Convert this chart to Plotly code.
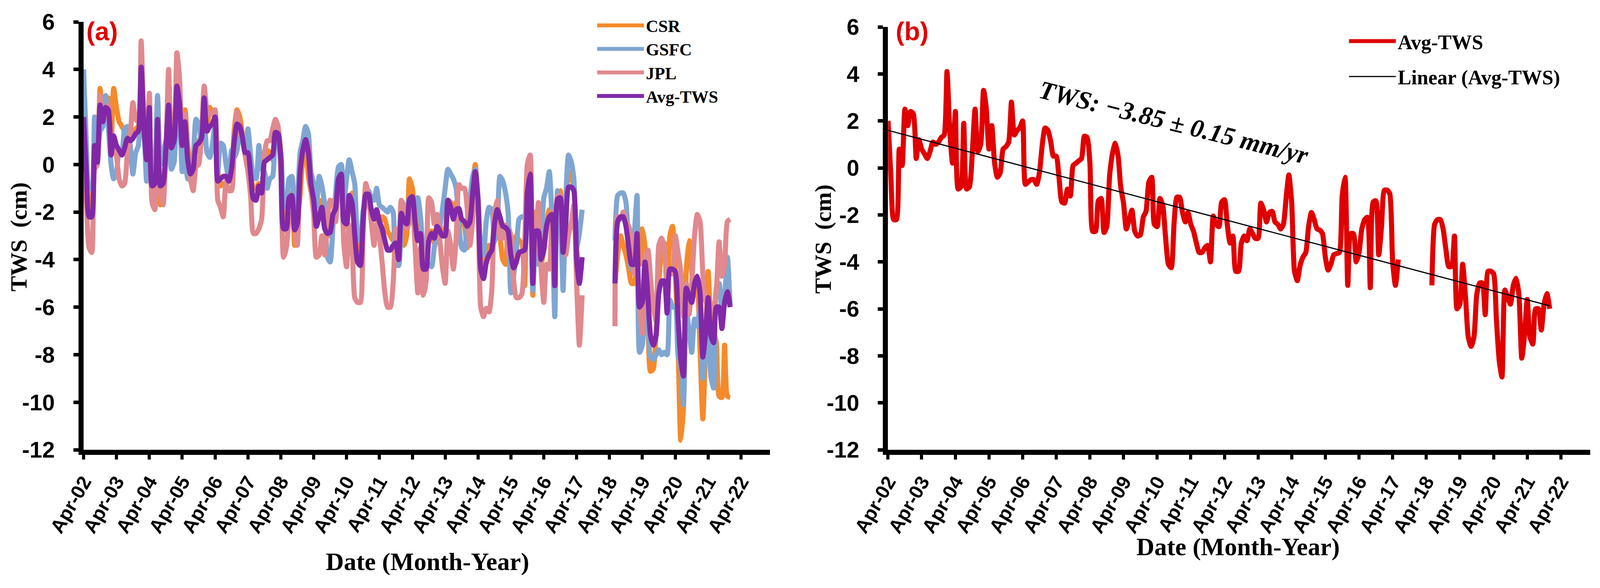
import numpy as np
import pandas as pd
import plotly.graph_objects as go

W, H = 4288, 1506

# ---------------- data (monthly, cm) ----------------
first_month = "2002-04-01"
gap_months = 11  # Jul-2017 .. May-2018 (no data between GRACE and GRACE-FO)

# GRACE period: Apr-2002 .. Jun-2017 (183 months)
avg_grace = [2.0, -0.3, -2.2, -2.2, 0.8, 0.1, 2.5, 1.8, 2.4, 2.3,
             0.4, 1.2, 0.8, 0.6, 0.4, 0.7, 1.1, 1.0, 1.1, 1.3,
             1.4, 4.1, 1.5, 0.2, 2.4, -0.9, -0.8, 1.9, -0.9, -0.8,
             0.6, 2.5, 0.7, 1.0, 3.3, 2.6, 0.8, 1.8, 0.2, -0.4,
             -0.2, 0.8, 0.9, 1.1, 2.8, 1.4, 1.6, 1.7, 2.0, -0.7,
             -0.6, -0.5, -0.5, -0.7, -0.2, 1.0, 1.7, 1.6, 1.1, 0.5,
             0.5, -0.4, -1.45, -1.5, -0.9, -1.2, 0.1, 0.2, 0.3, 0.4,
             1.35, 1.3, 0.2, -2.7, -2.7, -1.4, -1.3, -2.75, -2.5, -0.3,
             0.6, 1.05, 0.5, -0.8, -1.5, -2.6, -2.2, -1.8, -2.7, -2.9,
             -2.85, -2.1, -1.85, -0.6, -0.4, -2.4, -2.5, -1.3, -1.6, -2.95,
             -4.1, -4.25, -2.4, -1.25, -1.25, -1.9, -2.3, -1.9, -2.4, -2.7,
             -3.2, -3.6, -3.6, -3.4, -3.3, -4.0, -2.05, -2.4, -2.5, -1.46,
             -1.35, -2.4, -3.2, -2.9, -4.4, -4.4, -3.2, -2.9, -3.1, -2.6,
             -2.8, -3.0, -3.0, -1.5, -1.8, -2.3, -1.9, -1.85, -2.3, -2.4,
             -2.6, -2.4, -1.2, -0.3, -1.5, -4.4, -4.8, -4.15, -3.8, -3.6,
             -2.5, -1.9, -2.2, -2.6, -2.65, -2.8, -3.8, -4.35, -4.1, -3.7,
             -3.65, -3.6, -1.2, -0.4, -5.0, -2.8, -2.8, -4.0, -3.6, -2.6,
             -2.2, -2.1, -5.1, -1.45, -1.4, -3.7, -2.5, -0.95, -0.95, -1.1,
             -4.0, -5.0, -3.9]

csr_grace = [2.0, -0.2, -2.1, -1.8, 0.6, 0.2, 3.2, 1.9, 2.2, 2.8,
             0.8, 3.2, 2.4, 1.8, 1.6, 1.4, 1.2, 1.0, 1.1, 1.5,
             1.6, 4.2, 1.2, 0.6, 2.4, -0.6, -0.5, 1.4, -1.7, -1.2,
             0.3, 2.3, 0.9, 1.3, 3.2, 2.3, 1.9, 2.3, 0.8, 0.0,
             0.3, 0.6, 1.0, 1.2, 2.6, 1.4, 2.4, 2.2, 2.0, -0.2,
             -0.9, -0.8, -0.8, -0.4, -0.1, 1.5, 2.3, 2.0, 1.2, 0.6,
             0.3, -0.3, -1.0, -1.0, -0.8, -1.1, 0.2, 0.6, 0.5, 0.2,
             1.1, 1.5, 0.5, -2.6, -2.8, -1.2, -1.3, -3.4, -2.5, -1.3,
             0.2, 0.6, -0.5, -1.1, -1.6, -2.1, -2.3, -1.5, -2.6, -2.4,
             -3.0, -2.1, -2.0, -0.7, -0.5, -2.2, -2.6, -1.6, -1.2, -2.4,
             -3.5, -3.8, -2.2, -1.6, -1.3, -1.9, -2.0, -2.2, -2.5, -2.2,
             -2.3, -2.8, -3.0, -3.2, -3.0, -4.0, -2.3, -3.4, -2.9, -0.6,
             -1.0, -2.0, -2.8, -3.0, -4.0, -4.1, -3.1, -2.8, -3.3, -2.7,
             -2.6, -2.8, -3.0, -1.5, -1.6, -1.9, -1.6, -2.2, -2.4, -2.6,
             -3.5, -2.3, -0.8, 0.0, -1.4, -3.8, -4.2, -4.0, -3.4, -3.6,
             -2.1, -1.6, -3.0, -4.0, -4.2, -2.6, -3.0, -3.5, -3.0, -3.2,
             -3.3, -5.1, -1.2, -0.6, -5.5, -2.0, -2.6, -4.2, -3.6, -2.6,
             -1.9, -2.0, -4.5, -1.9, -1.1, -3.3, -2.2, -0.3, -0.5, -1.0,
             -3.5, -4.5, -4.3]

gsfc_grace = [4.0, 0.9, -1.0, -1.0, 2.0, 0.1, 1.4, 1.6, 2.9, 1.6,
              0.0, -0.6, -0.4, 0.6, 0.5, 1.5, 1.6, 0.8, -0.4, 0.5,
              0.8, 2.9, 1.6, -0.7, 1.8, -0.5, 0.0, 2.9, 0.0, 0.5,
              1.0, 1.2, -0.2, 0.1, 2.0, 1.8, -0.3, 1.0, -0.6, -0.6,
              0.2, 1.9, 1.7, 0.9, 2.0, 0.5, 0.3, 0.8, 1.7, -0.4,
              0.9, 0.8, 0.0, -0.6, 0.6, 0.3, 0.6, 1.5, 1.0, 0.5,
              1.5, 0.4, -0.5, -0.6, 0.8, -0.2, -0.3, -1.0, -0.6, -0.5,
              1.0, 0.8, 0.5, -1.6, -1.8, -0.6, -0.5, -2.2, -1.6, 0.5,
              1.0, 1.6, 1.3, -0.3, -0.8, -1.8, -0.5, -0.9, -1.7, -3.9,
              -4.1, -2.6, -1.2, -0.1, 0.0, -1.7, -0.6, 0.2, -0.3, -0.8,
              -3.0, -3.2, -2.0, -1.4, -1.1, -1.4, -1.5, -1.0, -1.7, -1.8,
              -1.9, -2.0, -1.8, -2.0, -4.2, -4.25, -2.4, -2.0, -1.9, -1.4,
              -1.4, -1.8, -1.4, -2.2, -3.7, -4.2, -4.2, -4.3, -3.5, -3.0,
              -2.6, -1.9, -1.0, -0.2, -0.4, -0.6, -1.0, -2.5, -3.5, -3.6,
              -2.5, -1.5, -0.5, -0.2, -1.4, -3.4, -3.8, -2.4, -1.8, -1.9,
              -3.3, -2.6, -0.5, -0.7, -1.2, -2.0, -5.4, -4.7, -3.7, -2.3,
              -2.2, -2.2, -2.4, -1.0, -5.3, -3.2, -4.2, -3.5, -1.4, -1.0,
              -0.3, -2.3, -6.4, -1.1, -1.8, -5.3, -1.5, 0.4, 0.1, -0.6,
              -3.5, -2.9, -1.9]

jpl_grace = [0.0, -1.6, -3.5, -3.7, -0.2, 0.0, 2.9, 1.9, 2.1, 2.5,
             0.4, 1.0, 0.4, -0.6, -0.9, -0.8, 0.5, 1.2, 2.6, 1.9,
             1.8, 5.2, 1.7, 0.7, 3.0, -1.6, -1.9, 1.4, -1.0, -1.7,
             0.5, 4.0, 1.4, 1.6, 4.7, 3.7, 0.8, 2.1, 0.4, -0.6,
             -1.1, -0.1, 0.0, 1.2, 3.3, 2.3, 2.1, 2.1, 2.3, -1.5,
             -1.8, -2.2, -0.7, -1.1, -1.1, 1.2, 2.2, 1.3, 1.1, 0.4,
             -0.3, -1.3, -2.9, -2.9, -2.7, -2.3, 0.4, 1.0, 1.0, 1.5,
             1.9, 1.6, -0.4, -3.9, -3.5, -2.4, -2.1, -2.7, -3.4, -0.1,
             0.6, 1.0, 0.7, -1.0, -2.1, -3.9, -3.8, -3.0, -3.8, -2.4,
             -1.5, -1.6, -2.4, -1.0, -0.7, -3.3, -4.3, -2.5, -3.3, -5.6,
             -5.8, -5.8, -3.0, -0.8, -1.35, -2.4, -3.4, -2.5, -3.0, -4.1,
             -5.4, -6.0, -6.0, -5.0, -2.7, -3.8, -1.5, -1.8, -2.7, -2.4,
             -1.6, -3.4, -5.4, -3.5, -5.5, -4.9, -1.4, -1.6, -2.5, -2.1,
             -3.2, -4.3, -5.0, -2.8, -3.4, -4.4, -3.1, -0.85, -1.0, -1.0,
             -1.8, -3.4, -2.3, -0.7, -1.7, -6.0, -6.4, -6.05, -6.2, -5.3,
             -2.1, -1.5, -3.1, -3.1, -2.55, -3.8, -3.0, -4.85, -5.6, -5.6,
             -5.45, -3.5, 0.0, 0.4, -4.2, -3.2, -1.6, -4.3, -5.8, -4.2,
             -4.4, -2.0, -4.4, -1.35, -1.3, -2.5, -3.8, -2.95, -2.45, -1.7,
             -5.0, -7.6, -5.5]

# GRACE-FO period: Jun-2018 .. Dec-2021 (43 months)
avg_gfo = [-5.0, -2.4, -2.2, -2.2, -2.6, -3.5, -4.2, -4.2, -2.9, -6.0,
           -5.8, -4.1, -5.5, -7.2, -7.6, -7.2, -5.4, -4.9, -4.9, -6.25,
           -4.4, -4.4, -4.5, -6.4, -8.2, -8.9, -5.2, -5.5, -5.8, -5.0,
           -4.7, -5.4, -8.1, -7.2, -5.6, -7.2, -7.5, -6.0, -6.0, -6.9,
           -5.8, -5.35, -6.0]
csr_gfo = [-5.0, -3.8, -3.0, -3.4, -3.8, -4.4, -5.0, -5.0, -3.0, -4.2,
           -2.7, -3.5, -6.5, -8.7, -8.6, -7.0, -5.0, -3.6, -3.3, -5.8,
           -3.0, -2.6, -4.5, -7.5, -11.6, -10.2, -4.5, -3.2, -4.5, -5.5,
           -5.2, -7.8, -10.7, -8.0, -4.5, -6.5, -7.0, -7.5, -9.75, -9.8,
           -7.6, -9.75, -9.8]
gsfc_gfo = [-3.2, -1.3, -1.2, -1.2, -1.6, -3.5, -4.4, -3.0, -1.3, -7.9,
            -7.6, -5.0, -6.4, -8.1, -8.2, -8.0, -7.8, -8.0, -7.9, -8.0,
            -5.7, -6.0, -6.0, -8.0, -8.5, -10.1, -6.1, -7.0, -7.9, -6.5,
            -6.8, -6.0, -9.0, -7.9, -6.3, -8.9, -9.4, -5.2, -5.0, -6.2,
            -5.6, -3.9, -5.9]
jpl_gfo = [-6.8, -2.2, -2.3, -2.0, -2.4, -2.6, -3.2, -4.6, -4.4, -5.9,
           -7.1, -3.8, -3.6, -4.8, -6.0, -6.6, -3.4, -3.1, -3.5, -4.95,
           -4.5, -4.6, -3.0, -3.7, -4.5, -6.4, -5.0, -6.3, -5.0, -3.0,
           -2.1, -2.4, -4.6, -5.7, -6.0, -6.2, -6.1, -5.3, -3.25, -4.7,
           -4.2, -2.4, -2.3]

trend_label = "TWS: \u22123.85 \u00b1 0.15 mm/yr"

tick_dates = ["2002-04-01", "2003-04-01", "2004-04-01", "2005-04-01", "2006-04-01",
              "2007-04-01", "2008-04-01", "2009-04-01", "2010-04-01", "2011-04-01",
              "2012-04-01", "2013-04-01", "2014-04-01", "2015-04-01", "2016-04-01",
              "2017-04-01", "2018-04-01", "2019-04-01", "2020-04-01", "2021-04-01",
              "2022-04-01"]
tick_labels = ["Apr-02", "Apr-03", "Apr-04", "Apr-05", "Apr-06", "Apr-07", "Apr-08",
               "Apr-09", "Apr-10", "Apr-11", "Apr-12", "Apr-13", "Apr-14", "Apr-15",
               "Apr-16", "Apr-17", "Apr-18", "Apr-19", "Apr-20", "Apr-21", "Apr-22"]
y_tick_vals = [-12, -10, -8, -6, -4, -2, 0, 2, 4, 6]
y_tick_text = ["-12", "-10", "-8", "-6", "-4", "-2", "0", "2", "4", "6"]

# ---------------- assemble ----------------
def join(a, b):
    return list(a) + [None] * gap_months + list(b)

avg = join(avg_grace, avg_gfo)
csr = join(csr_grace, csr_gfo)
gsfc = join(gsfc_grace, gsfc_gfo)
jpl = join(jpl_grace, jpl_gfo)
dates = pd.date_range(first_month, periods=len(avg), freq="MS")

# linear trend of Avg-TWS (least squares on available months)
t = np.arange(len(avg), dtype=float)
ya = np.array([np.nan if v is None else v for v in avg])
ok = ~np.isnan(ya)
slope, icpt = np.polyfit(t[ok], ya[ok], 1)
trend_y = [icpt + slope * t[0], icpt + slope * t[-1]]
trend_x = [dates[0], dates[-1]]

SANS = "Liberation Sans"
SERIF = "Liberation Serif"

fig = go.Figure()
series_a = [("CSR", csr, "#F58A2C"), ("GSFC", gsfc, "#7FA6D2"),
            ("JPL", jpl, "#E0898E"), ("Avg-TWS", avg, "#8128A8")]
for name, vals, col in series_a:
    fig.add_trace(go.Scatter(x=dates, y=vals, mode="lines", name=name,
                             line=dict(color=col, width=13, shape="spline", smoothing=0.6),
                             connectgaps=False, xaxis="x", yaxis="y", legend="legend"))

fig.add_trace(go.Scatter(x=dates, y=avg, mode="lines", name="Avg-TWS",
                         line=dict(color="#E00000", width=13, shape="spline", smoothing=0.6),
                         connectgaps=False, xaxis="x2", yaxis="y2",
                         legend="legend2", legendgroup="g1"))
fig.add_trace(go.Scatter(x=trend_x, y=trend_y, mode="lines", name="Linear (Avg-TWS)",
                         line=dict(color="black", width=3),
                         xaxis="x2", yaxis="y2", legend="legend2", legendgroup="g2"))

xa_common = dict(type="date", range=["2002-04-01", "2023-02-15"],
                 tickmode="array", tickvals=tick_dates, ticktext=tick_labels,
                 ticks="outside", ticklen=12, tickwidth=8, tickcolor="black",
                 showline=True, linewidth=13, linecolor="black",
                 showgrid=False, zeroline=False, automargin=False, tickangle=-60,
                 ticklabelstandoff=8,
                 tickfont=dict(family=SANS, size=50, color="black", weight="bold"))
ya_common = dict(range=[-12, 6], tickmode="array", tickvals=y_tick_vals, ticktext=y_tick_text,
                 ticks="outside", ticklen=13, tickwidth=9, tickcolor="black",
                 showline=True, linewidth=13, linecolor="black",
                 showgrid=False, zeroline=False, automargin=False, ticklabelstandoff=36,
                 tickfont=dict(family=SANS, size=58, color="black", weight="bold"))

y_bottom = 1 - 1152 / H
fig.update_layout(
    width=W, height=H, margin=dict(l=0, r=0, t=0, b=0), autosize=False,
    paper_bgcolor="white", plot_bgcolor="white", showlegend=True,
    xaxis=dict(xa_common, domain=[224 / W, 2063 / W], anchor="y"),
    yaxis=dict(ya_common, domain=[y_bottom, 1 - 56 / H], anchor="x"),
    xaxis2=dict(xa_common, domain=[2380 / W, 4262 / W], anchor="y2"),
    yaxis2=dict(ya_common, domain=[y_bottom, 1 - 69 / H], anchor="x2"),
    legend=dict(x=1595 / W, y=1 - 30 / H, xanchor="left", yanchor="top",
                bgcolor="rgba(0,0,0,0)", itemwidth=120, tracegroupgap=0,
                font=dict(family=SERIF, size=44, color="black", weight="bold")),
    legend2=dict(x=3610 / W, y=1 - 65 / H, xanchor="left", yanchor="top",
                 bgcolor="rgba(0,0,0,0)", itemwidth=120, tracegroupgap=20,
                 font=dict(family=SERIF, size=52, color="black", weight="bold")),
)

def ann(text, x, y, size, family, angle=0, color="black", weight="bold", xref="paper", yref="paper"):
    return dict(text=text, x=x, y=y, xref=xref, yref=yref, xanchor="center", yanchor="middle",
                textangle=angle, showarrow=False,
                font=dict(family=family, size=size, color=color, weight=weight))

anns = [
    ann("(a)", 274 / W, 1 - 80 / H, 66, SANS, color="#E00000"),
    ann("(b)", 2444 / W, 1 - 80 / H, 66, SANS, color="#E00000"),
    ann("TWS  (cm)", 50 / W, 1 - 607 / H, 60, SERIF, angle=-90),
    ann("TWS  (cm)", 2206 / W, 1 - 612 / H, 60, SERIF, angle=-90),
    ann("Date (Month-Year)", 1146 / W, 1 - 1438 / H, 64, SERIF),
    ann("Date (Month-Year)", 3318 / W, 1 - 1400 / H, 64, SERIF),
    ann("<b><i>" + trend_label + "</i></b>", "2010-10-01", 1.93, 66, SERIF, angle=14,
        weight="normal", xref="x2", yref="y2"),
]
fig.update_layout(annotations=anns)

# place the figure at the page origin and make it fill exactly the visible window
fit_js = """
document.documentElement.style.margin='0';
document.body.style.margin='0';
document.documentElement.style.overflow='hidden';
document.body.style.overflow='hidden';
var gd = document.getElementById('{plot_id}');
var vw = document.documentElement.clientWidth || window.innerWidth;
var vh = document.documentElement.clientHeight || window.innerHeight;
if (vw > 0 && vh > 0 && (Math.abs(vw - 4288) > 1 || Math.abs(vh - 1506) > 1)) {
  Plotly.relayout(gd, {width: vw, height: vh});
}
"""

fig.write_html("out.html", post_script=fit_js, config={"displayModeBar": False})
